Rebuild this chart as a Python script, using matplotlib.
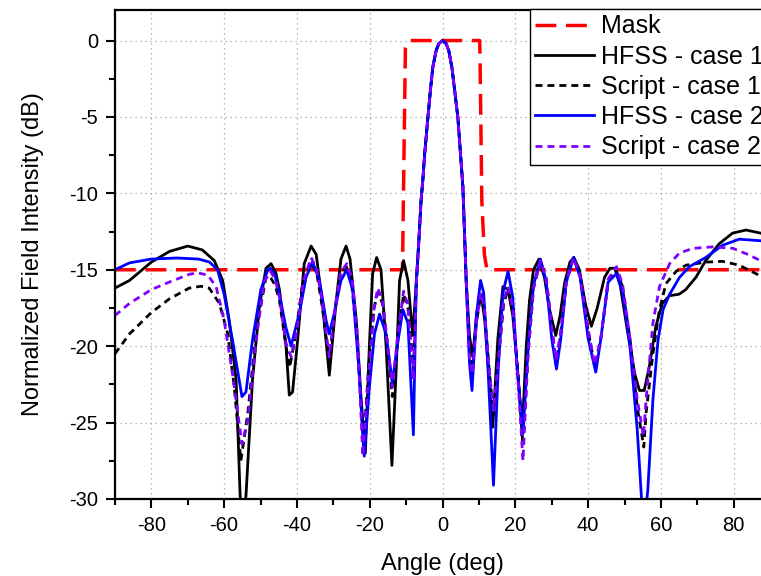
import matplotlib
matplotlib.use("Agg")
import matplotlib.pyplot as plt
import numpy as np
from matplotlib.ticker import MultipleLocator

plt.rcParams["font.family"] = ["Liberation Sans", "DejaVu Sans"]
plt.rcParams["axes.unicode_minus"] = False

# mask template
mask_x = [-90, -11.0, -10.2, -9.2, 10.2, 10.3, 10.8, 11.5, 12.2, 90]
mask_y = [-15, -15, -0.5, 0, 0, -1.0, -10.5, -14.0, -15, -15]

# main beam, common to all four patterns
beam_x = [-6.5, -5.9, -5.4, -4.9, -4.0, -3.3, -2.67, -1.75, -1.0, 0,
          1.0, 1.75, 2.6, 3.4, 4.2, 5.0, 5.6, 6.5]
beam_y = [-13.1, -10.5, -9.1, -7.4, -5.0, -3.2, -1.75, -0.65, -0.2, 0,
          -0.2, -0.7, -1.8, -3.4, -5.0, -7.6, -9.6, -15.7]

# HFSS - case 1
hfss1_lx = [-90, -86, -80, -75, -70, -66, -62.7, -60.4, -58.6, -56.7, -55.6, -55.0, -54.0,
            -52.2, -50.3, -48.5, -47.1, -45.8, -44.8, -43.0, -42.1, -41.2, -39.8, -38.0,
            -36.1, -34.7, -32.9, -31.1, -29.2, -27.9, -26.5, -25.4, -23.7, -22.4, -21.2,
            -20.1, -19.2, -18.1, -16.9, -15.5, -13.9, -12.7, -11.8, -10.7, -9.5, -8.2, -7.4]
hfss1_ly = [-16.2, -15.7, -14.5, -13.8, -13.45, -13.7, -14.4, -15.7, -18.3, -22.2, -29.8, -31.5, -29.8,
            -22.2, -17.4, -14.9, -14.6, -15.2, -16.3, -20.0, -23.2, -23.0, -19.6, -14.6,
            -13.45, -14.0, -17.4, -21.9, -17.0, -14.3, -13.45, -14.3, -18.3, -23.3, -27.0,
            -20.0, -15.25, -14.2, -15.0, -20.0, -27.8, -21.35, -15.7, -14.4, -15.7, -19.3, -16.5]
hfss1_rx = [7.4, 8.3, 9.4, 10.6, 11.6, 12.6, 13.8, 15.2, 16.6, 18.0, 19.3, 20.6, 21.9,
            23.0, 23.9, 25.0, 26.5, 28.0, 29.4, 31.1, 32.3, 33.5, 35.0, 36.1, 37.6, 39.3,
            40.9, 42.5, 44.5, 46.0, 47.3, 48.8, 50.8, 52.8, 54.1, 55.4, 56.8, 58.6, 60.4,
            62.3, 65.0, 66.8, 69.6, 72.3, 76.0, 79.7, 83.4, 87.3, 90]
hfss1_ry = [-19.3, -20.7, -17.8, -16.6, -18.3, -21.5, -25.3, -19.5, -16.1, -16.3, -18.0, -21.5, -25.5,
            -20.0, -17.0, -15.0, -14.3, -15.5, -17.6, -19.3, -18.0, -15.9, -14.5, -14.2, -15.0, -17.3,
            -18.7, -17.5, -15.5, -14.9, -14.9, -16.0, -19.0, -21.8, -22.9, -22.9, -21.35, -18.7, -17.2,
            -16.7, -16.6, -16.3, -15.5, -14.4, -13.3, -12.6, -12.4, -12.6, -12.8]

# Script - case 1
script1_lx = [-90, -86, -80, -75, -69.6, -66.4, -64.1, -61.3, -59.0, -57.2, -55.4, -53.5,
              -51.2, -48.5, -47.5, -46.0, -44.8, -43.0, -42.0, -40.5, -38.5, -36.1, -34.5,
              -33.0, -31.1, -29.5, -28.0, -26.4, -25.0, -23.5, -21.7, -20.2, -18.8, -17.8,
              -16.5, -15.3, -13.8, -12.3, -10.7, -9.5, -8.0, -7.2]
script1_ly = [-20.5, -19.2, -17.8, -16.9, -16.2, -16.08, -16.2, -17.2, -19.2, -22.7, -27.5, -24.4,
              -19.0, -15.5, -15.4, -16.0, -17.0, -20.0, -21.4, -19.5, -16.0, -14.5, -15.3,
              -17.5, -21.0, -17.5, -15.3, -14.8, -15.8, -19.5, -26.5, -21.0, -17.5, -16.5,
              -17.2, -19.5, -23.3, -19.5, -16.6, -17.5, -21.5, -16.0]
script1_rx = [7.4, 8.2, 9.3, 10.5, 11.5, 12.8, 14.0, 15.5, 16.8, 18.0, 19.3, 20.8, 22.1,
              23.5, 25.0, 26.9, 28.5, 30.0, 31.2, 32.5, 34.0, 36.0, 37.8, 40.0, 41.8, 43.5,
              45.5, 47.6, 49.3, 51.5, 53.5, 55.3, 55.9, 57.8, 59.6, 61.4, 64.2, 66.9, 72.4,
              76.9, 81.5, 87.3, 90]
script1_ry = [-20.5, -21.5, -18.5, -16.6, -17.5, -21.5, -24.5, -20.5, -17.2, -16.3, -17.5, -22.0, -26.5,
              -20.5, -16.2, -14.4, -15.6, -18.8, -21.2, -19.2, -15.8, -14.2, -15.4, -19.0, -21.3, -19.5,
              -15.8, -15.0, -16.0, -19.5, -24.0, -26.6, -24.4, -20.5, -17.6, -15.9, -15.1, -14.7, -14.5,
              -14.45, -14.7, -15.4, -15.7]

# HFSS - case 2
hfss2_lx = [-90, -86, -80, -73, -67, -64, -61.8, -60.0, -57.7, -55.1, -54.0, -52.2, -49.9,
            -48.0, -47.3, -46.0, -44.8, -43.0, -41.6, -39.3, -37.5, -35.7, -33.8, -32.0,
            -31.1, -29.7, -27.9, -26.3, -24.7, -23.0, -21.5, -20.1, -18.7, -17.3, -15.5,
            -13.8, -12.3, -10.9, -9.5, -8.0, -7.2]
hfss2_ly = [-15.0, -14.55, -14.3, -14.23, -14.3, -14.5, -15.0, -16.6, -19.6, -23.3, -23.0, -19.6, -16.3,
            -15.0, -14.9, -15.4, -16.6, -18.8, -20.0, -17.8, -15.5, -14.5, -15.7, -18.3,
            -19.2, -17.8, -15.7, -15.0, -16.3, -21.4, -27.2, -22.7, -19.2, -17.9, -19.2,
            -22.4, -19.8, -17.6, -18.5, -25.8, -15.7]
hfss2_rx = [7.4, 8.1, 9.3, 10.45, 11.3, 12.5, 14.0, 15.3, 16.6, 18.0, 19.3, 20.5, 22.1,
            23.7, 25.0, 26.9, 28.5, 30.0, 31.3, 32.5, 34.0, 36.0, 37.8, 40.0, 42.1, 43.5,
            45.5, 47.8, 49.5, 51.5, 53.5, 54.6, 55.3, 56.4, 57.8, 59.2, 60.6, 62.4, 65.1,
            67.8, 72.3, 76.9, 81.5, 87.3, 90]
hfss2_ry = [-21.1, -22.9, -18.0, -15.7, -16.5, -21.5, -29.1, -21.5, -16.5, -15.1, -16.8, -21.5, -25.7,
            -19.5, -16.0, -14.3, -15.8, -19.5, -21.5, -19.5, -15.8, -14.2, -15.5, -19.5, -21.7, -19.5,
            -15.8, -15.25, -16.5, -20.0, -25.5, -29.7, -32.0, -29.4, -23.5, -19.6, -17.6, -16.6, -15.5,
            -14.8, -14.2, -13.4, -13.0, -13.1, -13.2]

# Script - case 2
script2_lx = [-90, -86, -80, -75, -69.6, -67.3, -64.5, -62.2, -60.0, -57.7, -55.1, -53.5,
              -51.2, -49.0, -47.3, -46.0, -44.8, -43.0, -41.6, -40.0, -38.3, -36.1, -34.5,
              -33.0, -31.1, -29.5, -28.0, -26.3, -24.8, -23.3, -21.9, -20.2, -18.8, -17.8,
              -16.5, -15.3, -13.8, -12.3, -10.7, -9.5, -8.0, -7.2]
script2_ly = [-18.0, -17.2, -16.3, -15.8, -15.3, -15.2, -15.35, -16.1, -18.3, -21.8, -26.4, -24.9,
              -19.6, -15.8, -15.1, -15.6, -16.8, -19.8, -20.7, -19.0, -15.8, -14.2, -15.0,
              -17.2, -20.7, -17.5, -15.2, -14.6, -15.6, -19.5, -27.2, -21.5, -17.5, -16.2,
              -17.0, -19.5, -22.7, -19.3, -16.4, -17.3, -22.2, -16.0]
script2_rx = [7.4, 8.2, 9.3, 10.5, 11.5, 12.8, 14.0, 15.5, 16.8, 18.0, 19.3, 20.8, 22.1,
              23.5, 25.0, 26.9, 28.5, 30.0, 31.2, 32.5, 34.0, 36.0, 37.8, 40.0, 41.8, 43.5,
              45.5, 47.8, 49.5, 51.5, 53.5, 55.2, 56.0, 57.8, 59.6, 62.4, 65.1, 68.8, 74.3,
              79.8, 84.4, 87.3, 90]
script2_ry = [-20.8, -21.8, -18.5, -16.5, -17.5, -21.5, -24.2, -20.5, -17.0, -16.1, -17.5, -22.5, -27.5,
              -20.5, -16.2, -14.4, -15.6, -18.7, -20.9, -19.0, -15.7, -14.2, -15.4, -18.9, -21.2, -19.5,
              -15.6, -14.8, -16.0, -19.5, -23.5, -25.9, -23.3, -18.5, -16.1, -14.6, -13.9, -13.6, -13.5,
              -13.6, -14.05, -14.4, -14.6]


def pattern(lx, ly, rx, ry):
    return (np.concatenate([lx, beam_x, rx]), np.concatenate([ly, beam_y, ry]))


fig = plt.figure(figsize=(7.61, 5.76), dpi=100)
ax = fig.add_axes([0.151, 0.1337, 0.861, 0.849])

ax.plot(mask_x, mask_y, color="#ff0000", lw=2.5, dashes=(6, 2.8), label="Mask")
x, y = pattern(hfss1_lx, hfss1_ly, hfss1_rx, hfss1_ry)
ax.plot(x, y, color="black", lw=2, label="HFSS - case 1")
x, y = pattern(script1_lx, script1_ly, script1_rx, script1_ry)
ax.plot(x, y, color="black", lw=2, dashes=(2.5, 1.8), label="Script - case 1")
x, y = pattern(hfss2_lx, hfss2_ly, hfss2_rx, hfss2_ry)
ax.plot(x, y, color="#0000ff", lw=2, label="HFSS - case 2")
x, y = pattern(script2_lx, script2_ly, script2_rx, script2_ry)
ax.plot(x, y, color="#8000ff", lw=2, dashes=(2.5, 1.8), label="Script - case 2")

ax.set_xlim(-90, 90)
ax.set_ylim(-30, 2)
ax.xaxis.set_major_locator(MultipleLocator(20))
ax.xaxis.set_minor_locator(MultipleLocator(10))
ax.yaxis.set_major_locator(MultipleLocator(5))
ax.yaxis.set_minor_locator(MultipleLocator(2.5))
ax.tick_params(which="major", direction="out", length=6.5, width=1.5, labelsize=14.5, pad=5.5)
ax.tick_params(which="minor", direction="out", length=4, width=1.5)
ax.tick_params(top=False, right=False, which="both")
for s in ax.spines.values():
    s.set_linewidth(1.6)
ax.grid(True, which="major", color="#a0a0a0", linestyle=(0, (1, 3)), lw=0.9)

ax.set_xlabel("Angle (deg)", fontsize=17, labelpad=13)
ax.set_ylabel("Normalized Field Intensity (dB)", fontsize=17, labelpad=18)

leg = ax.legend(loc="upper left", bbox_to_anchor=(0.633, 1.002), fontsize=18,
                frameon=True, fancybox=False, framealpha=1, edgecolor="black",
                borderpad=0.22, labelspacing=0.25, handlelength=2.35, handletextpad=0.3,
                borderaxespad=0)
leg.get_frame().set_linewidth(1.0)

fig.savefig("out.png", dpi=100)
